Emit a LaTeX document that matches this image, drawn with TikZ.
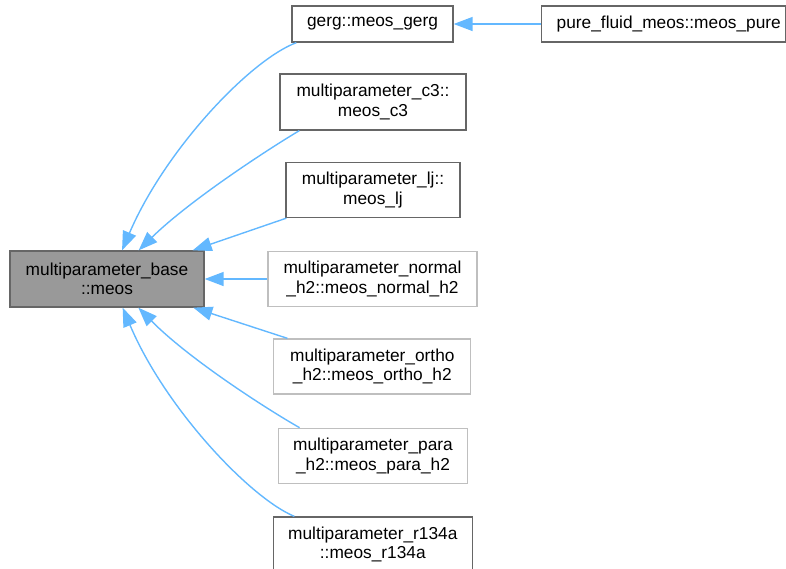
\documentclass[tikz,border=0pt]{standalone}
\usepackage{fontspec}
\setmainfont{Liberation Sans}
\usetikzlibrary{arrows.meta,calc}
\definecolor{edgeblue}{HTML}{63B8FF}
\definecolor{boxdark}{HTML}{666666}
\definecolor{boxlight}{HTML}{BFBFBF}
\definecolor{basefill}{HTML}{999999}
\begin{document}
\begin{tikzpicture}[x=1pt,y=-1pt,
  cls/.style={draw=boxdark, line width=1.3pt, fill=white, inner sep=0pt,
    align=center, minimum height=55pt, font=\fontsize{17.3}{19.5}\selectfont},
  undoc/.style={cls, draw=boxlight},
  inherit/.style={draw=edgeblue, line width=1.4pt,
    -{Triangle[length=19pt,width=14pt]}}]
\useasboundingbox (0,0) rectangle (786,568);

% class nodes
\node[cls, fill=basefill, minimum width=194pt, minimum height=56pt] (base) at (107,279)
  {multiparameter\_base\\::meos};
\node[cls, minimum width=161pt, minimum height=36pt] (gerg) at (372.5,24)
  {gerg::meos\_gerg};
\node[cls, minimum width=244pt, minimum height=36pt] (pure) at (663.5,24)
  {\hspace*{10.5pt}pure\_fluid\_meos::meos\_pure};
\node[cls, minimum width=186pt, minimum height=56pt] (c3) at (373,102)
  {multiparameter\_c3::\\meos\_c3};
\node[cls, minimum width=174pt] (lj) at (373,190)
  {multiparameter\_lj::\\meos\_lj};
\node[undoc, minimum width=209pt] (normal) at (372.5,279)
  {multiparameter\_normal\\\_h2::meos\_normal\_h2};
\node[undoc, minimum width=197pt] (ortho) at (372.3,366.5)
  {multiparameter\_ortho\\\_h2::meos\_ortho\_h2};
\node[undoc, minimum width=189pt] (para) at (373,455.8)
  {multiparameter\_para\\\_h2::meos\_para\_h2};
\node[cls, minimum width=199pt] (r134a) at (372.8,544.5)
  {multiparameter\_r134a\\::meos\_r134a};

% inheritance arrows
\draw[inherit] (pure.west) -- (gerg.east);
\draw[inherit] ($(gerg.south west)+(5,0)$) .. controls (250,60) and (165,150) ..
  ($(base.north west)+(112.7,0)$);
\draw[inherit] ($(c3.south west)+(20,0)$) .. controls (270,148) and (190,200) ..
  ($(base.north west)+(129.3,0)$);
\draw[inherit] ($(lj.south west)+(1,0)$) -- ($(base.north west)+(183.3,0)$);
\draw[inherit] (normal.west) -- (base.east);
\draw[inherit] ($(ortho.north west)+(14.3,0)$) -- ($(base.south west)+(184,0)$);
\draw[inherit] ($(para.north west)+(21.7,0)$) .. controls (270,411) and (190,360) ..
  ($(base.south west)+(129,0)$);
\draw[inherit] ($(r134a.north west)+(21.7,0)$) .. controls (250,498) and (165,408) ..
  ($(base.south west)+(113.3,0)$);
\end{tikzpicture}
\end{document}
